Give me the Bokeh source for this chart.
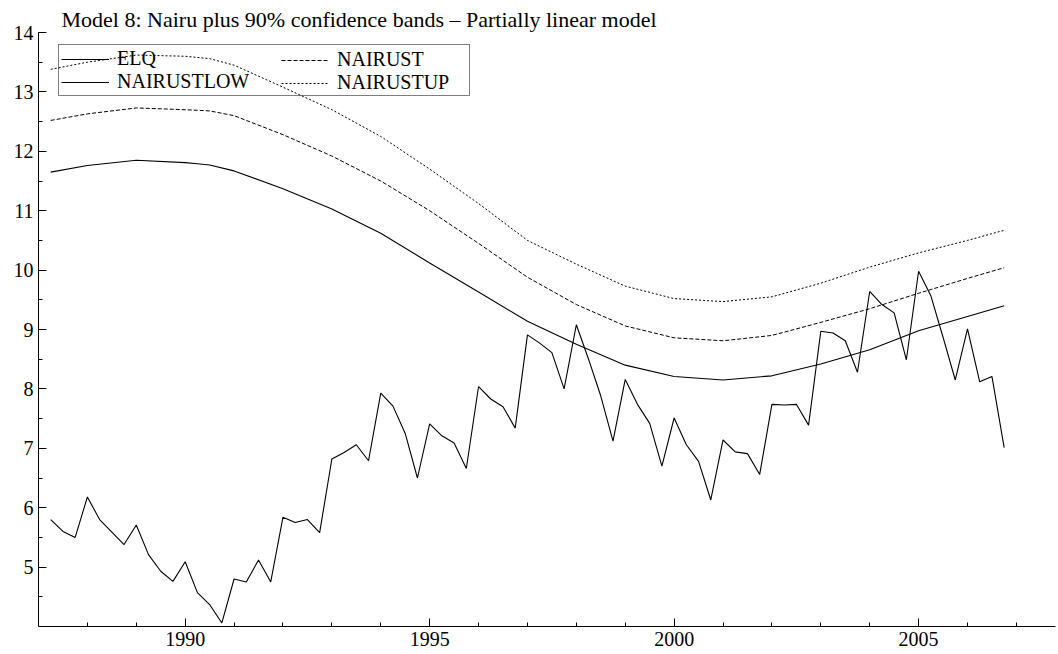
from bokeh.plotting import figure
from bokeh.models import Range1d, FixedTicker, Legend, LegendItem
from bokeh.embed import file_html
from bokeh.resources import INLINE

# ---- data ----
elq_start = 1987.25  # first quarter plotted
elq = [5.80, 5.60, 5.50, 6.18, 5.80, 5.59, 5.38, 5.71, 5.21, 4.93, 4.76, 5.09,
       4.57, 4.37, 4.06, 4.80, 4.75, 5.12, 4.75, 5.84, 5.75, 5.80, 5.58, 6.82,
       6.93, 7.06, 6.79, 7.93, 7.71, 7.25, 6.50, 7.41, 7.21, 7.09, 6.66, 8.04,
       7.83, 7.70, 7.34, 8.91, 8.77, 8.61, 8.00, 9.08, 8.50, 7.88, 7.12, 8.16,
       7.74, 7.42, 6.70, 7.51, 7.06, 6.78, 6.13, 7.14, 6.94, 6.91, 6.56, 7.74,
       7.73, 7.74, 7.39, 8.97, 8.94, 8.81, 8.28, 9.64, 9.42, 9.28, 8.49, 9.98,
       9.57, 8.87, 8.15, 9.01, 8.12, 8.21, 7.01]
elq_x = [elq_start + 0.25 * i for i in range(len(elq))]

curve_x = [1987.25, 1988, 1989, 1990, 1990.25, 1990.5, 1991, 1992, 1993, 1994,
           1995, 1996, 1997, 1998, 1999, 2000, 2001, 2002, 2003, 2004, 2005,
           2006, 2006.75]
nairustlow = [11.65, 11.76, 11.85, 11.81, 11.79, 11.77, 11.67, 11.37, 11.03,
              10.62, 10.12, 9.63, 9.14, 8.75, 8.40, 8.21, 8.15, 8.22, 8.42,
              8.66, 8.98, 9.22, 9.40]
nairust = [12.52, 12.63, 12.73, 12.70, 12.69, 12.68, 12.60, 12.28, 11.92,
           11.50, 11.00, 10.45, 9.88, 9.42, 9.06, 8.86, 8.81, 8.90, 9.12,
           9.35, 9.61, 9.86, 10.04]
nairustup = [13.38, 13.50, 13.62, 13.60, 13.58, 13.56, 13.45, 13.08, 12.70,
             12.25, 11.70, 11.12, 10.50, 10.10, 9.73, 9.52, 9.47, 9.55, 9.78,
             10.05, 10.29, 10.50, 10.67]

x_major = [1990, 1995, 2000, 2005]
x_minor = list(range(1988, 2008))
y_major = [5, 6, 7, 8, 9, 10, 11, 12, 13, 14]
y_minor = [4.5 + 0.5 * k for k in range(20)]

title_text = "Model 8: Nairu plus 90% confidence bands \u2013 Partially linear model"
FONT = "Liberation Serif"

p = figure(width=1058, height=654, output_backend="svg", toolbar_location=None,
           x_range=Range1d(1987.0, 2007.8), y_range=Range1d(4.0, 14.0),
           min_border_left=38, min_border_top=32, min_border_right=3,
           min_border_bottom=28, title=title_text)
p.outline_line_color = None
p.grid.visible = False
p.background_fill_color = "white"
p.border_fill_color = "white"

p.title.text_font = FONT
p.title.text_font_size = "22px"
p.title.text_font_style = "normal"
p.title.text_color = "black"
p.title.align = "left"
p.title.offset = 23
p.title.standoff = 1

for ax in (p.xaxis[0], p.yaxis[0]):
    ax.axis_line_color = "black"
    ax.axis_line_width = 1
    ax.major_tick_in = 8
    ax.major_tick_out = 0
    ax.minor_tick_in = 4
    ax.minor_tick_out = 0
    ax.major_tick_line_color = "black"
    ax.minor_tick_line_color = "black"
    ax.major_label_text_font = FONT
    ax.major_label_text_font_size = "20px"
    ax.major_label_text_color = "black"

p.xaxis[0].ticker = FixedTicker(ticks=x_major, minor_ticks=x_minor)
p.yaxis[0].ticker = FixedTicker(ticks=y_major, minor_ticks=y_minor)
p.xaxis[0].major_label_standoff = 5
p.yaxis[0].major_label_standoff = 5

r_elq = p.line(elq_x, elq, line_color="black", line_width=1.1)
r_st = p.line(curve_x, nairust, line_color="black", line_width=1, line_dash="4 2")
r_low = p.line(curve_x, nairustlow, line_color="black", line_width=1.1)
r_up = p.line(curve_x, nairustup, line_color="black", line_width=1, line_dash="2 2")


def style_legend(lg):
    lg.background_fill_alpha = 0
    lg.label_text_font = FONT
    lg.label_text_font_size = "20px"
    lg.label_text_color = "black"
    lg.glyph_width = 48
    lg.glyph_height = 20
    lg.label_height = 20
    lg.label_standoff = 8
    lg.padding = 2
    lg.spacing = 0
    lg.margin = 0


# left column carries the frame of the whole legend box
legend_a = Legend(items=[
    LegendItem(label="ELQ", renderers=[r_elq]),
    LegendItem(label="NAIRUSTLOW", renderers=[r_low]),
], orientation="vertical", location=(20, 530))
style_legend(legend_a)
legend_a.label_width = 350
legend_a.border_line_color = "black"
legend_a.border_line_width = 1

# right column, drawn inside the same box
legend_b = Legend(items=[
    LegendItem(label="NAIRUST", renderers=[r_st]),
    LegendItem(label="NAIRUSTUP", renderers=[r_up]),
], orientation="vertical", location=(241, 530))
style_legend(legend_b)
legend_b.border_line_alpha = 0

p.add_layout(legend_a, "center")
p.add_layout(legend_b, "center")

open("out.html", "w").write(file_html(p, INLINE))
